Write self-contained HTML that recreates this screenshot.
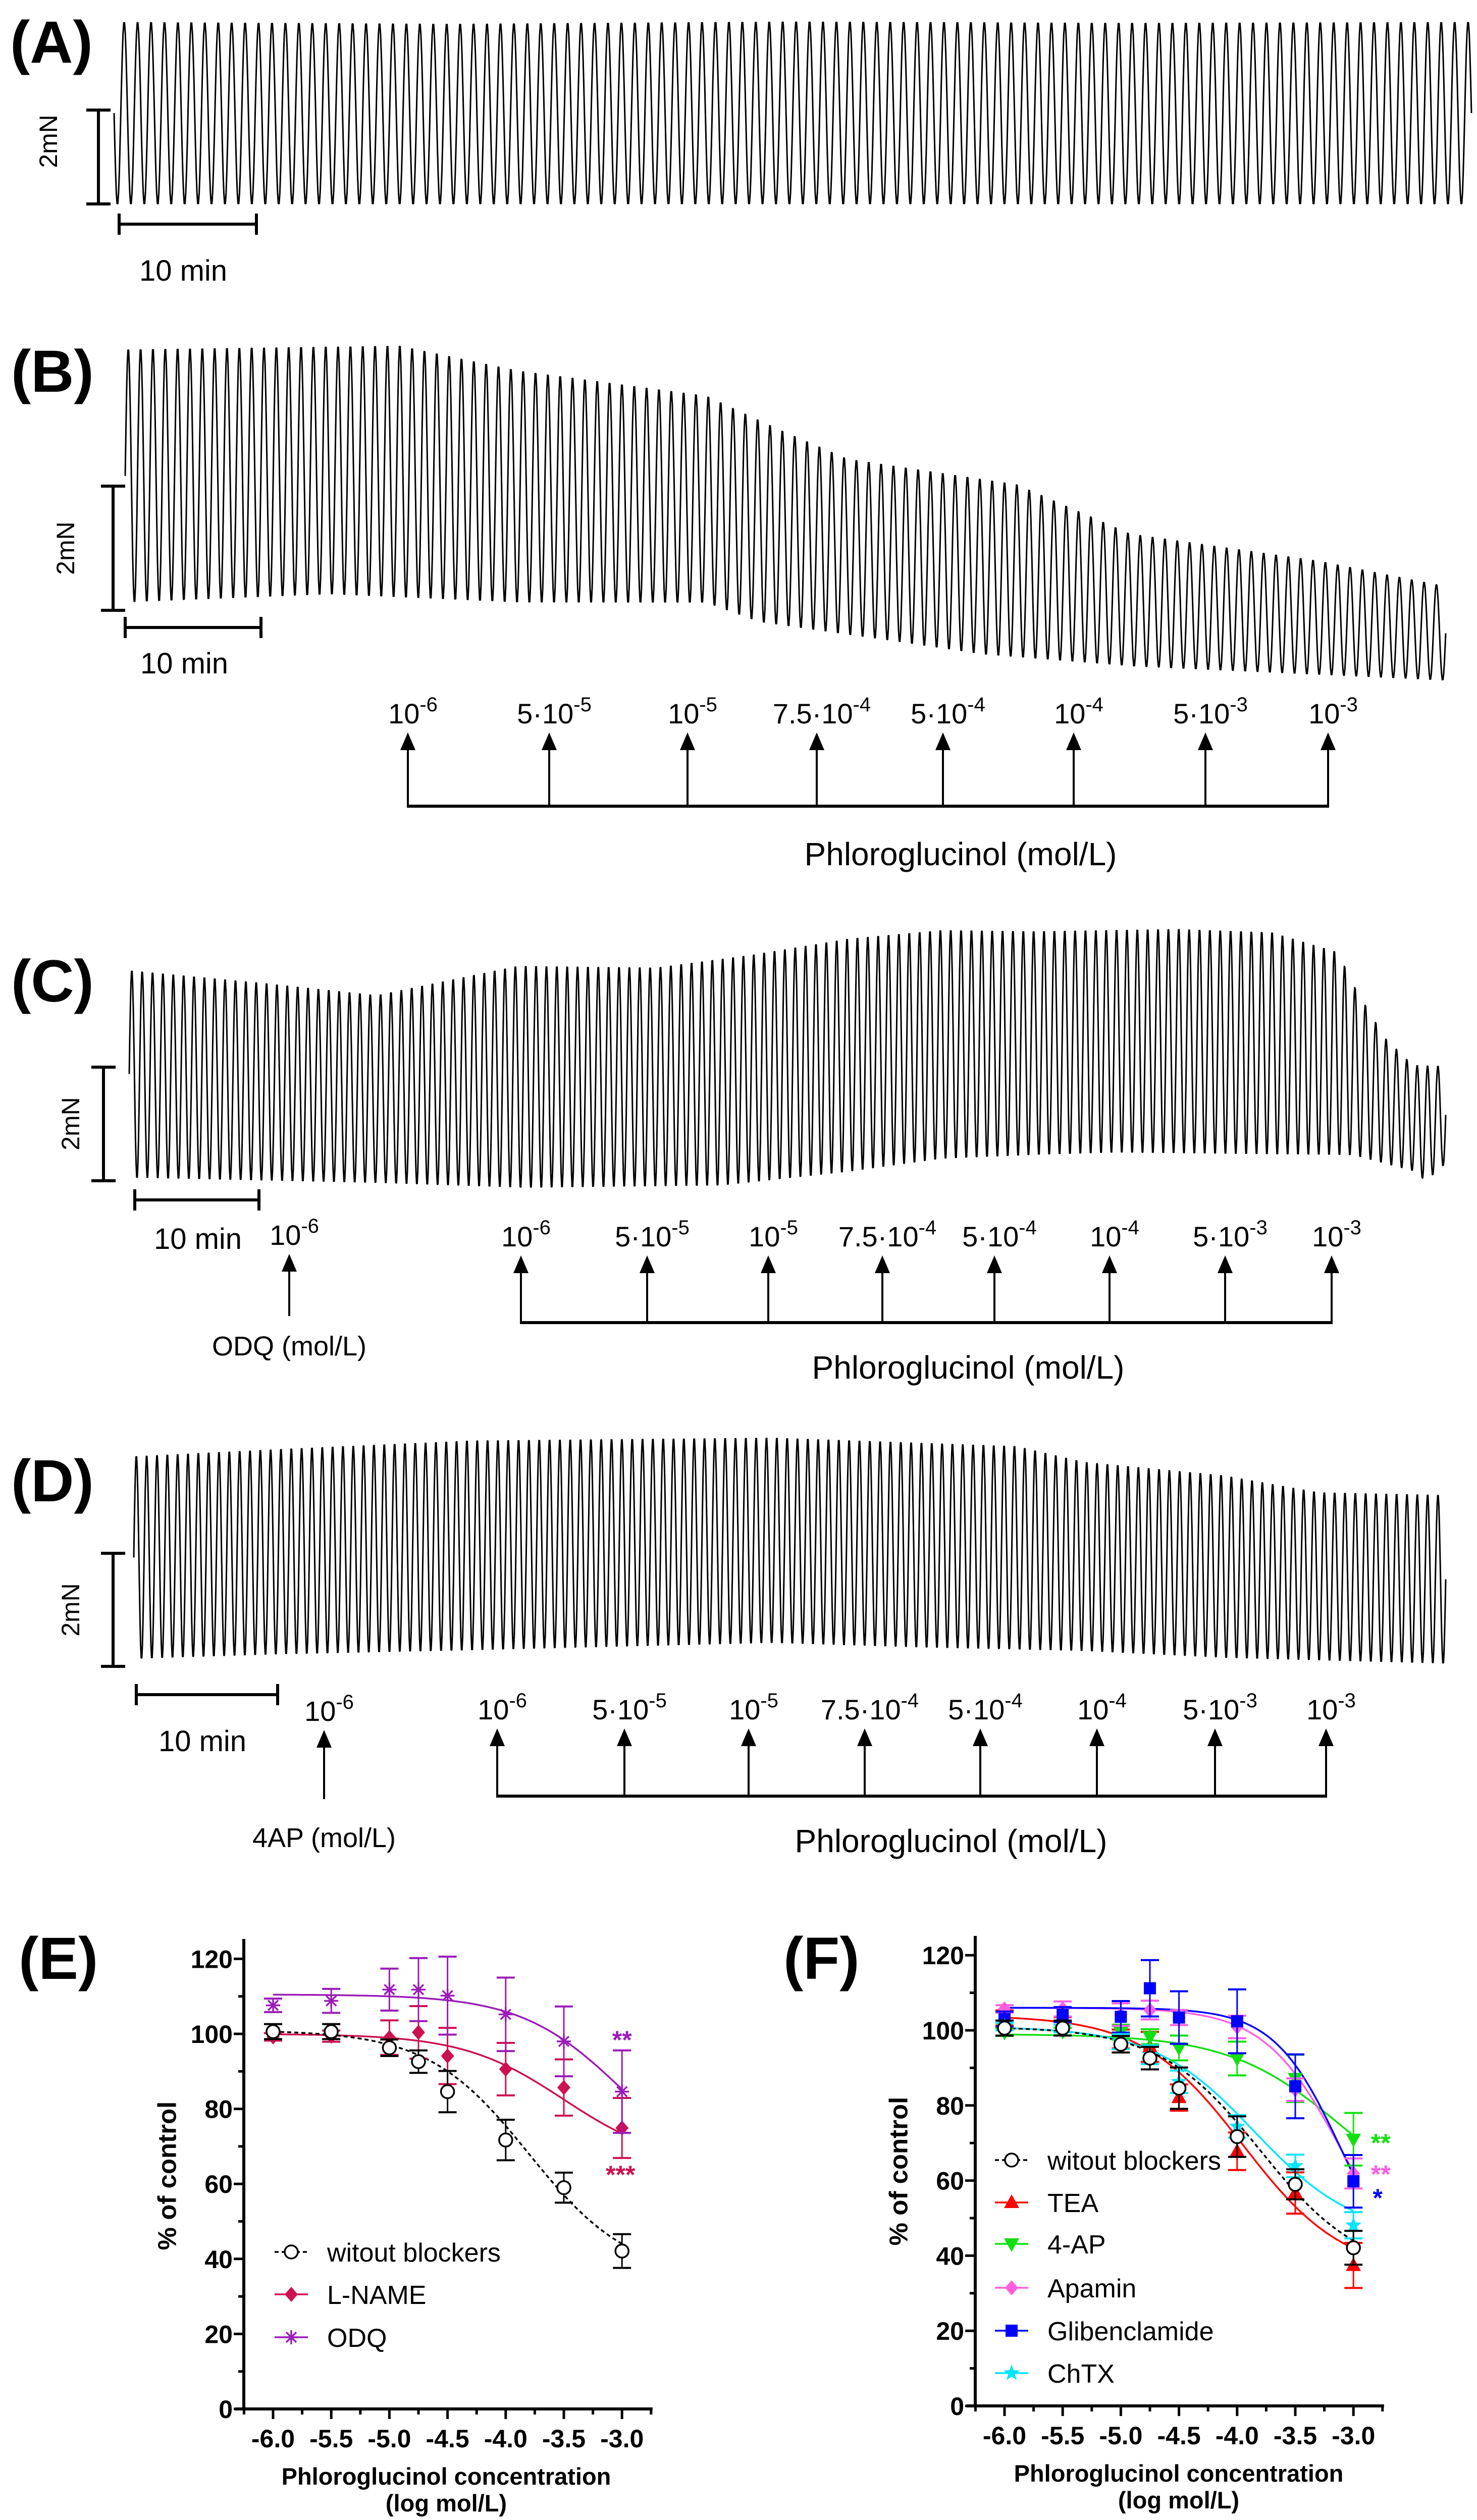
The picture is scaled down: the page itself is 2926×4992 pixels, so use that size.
<!DOCTYPE html>
<html><head><meta charset="utf-8"><title>Phloroglucinol contractility figure</title>
<style>
html,body{margin:0;padding:0;background:#fff;}
svg{display:block;font-family:"Liberation Sans",Arial,sans-serif;}
.lbl{font-weight:bold;font-size:118px;}
.tick{font-weight:bold;font-size:50px;}
</style></head>
<body>
<svg id="fig" xmlns="http://www.w3.org/2000/svg" width="2926" height="4992" viewBox="0 0 2926 4992">
<rect x="0" y="0" width="2926" height="4992" fill="#fff"/>
<text class="lbl" x="20" y="124">(A)</text>
<text class="lbl" x="22" y="776">(B)</text>
<text class="lbl" x="22" y="1984">(C)</text>
<text class="lbl" x="22" y="2974">(D)</text>
<text class="lbl" x="37" y="3920">(E)</text>
<text class="lbl" x="1552" y="3920">(F)</text>
<g id="traces"></g>
<g id="chartE"></g>
<g id="chartF"></g>
</svg>
<script>
// ===== Trace data (fraction of recording, force in mN above scale-bar base) =====
const traceATop=[[0,3.89],[0.25,3.85],[0.5,3.9],[0.75,3.87],[1,3.89]];
const traceABot=[[0,-0.02],[1,-0.02]];
const traceBTop=[[0,4.22],[0.208,4.28],[0.297,3.88],[0.44,3.47],[0.497,2.91],[0.547,2.45],[0.675,2.04],[0.761,1.24],[0.904,0.80],[1,0.39]];
const traceBBot=[[0,0.11],[0.155,0.24],[0.3,0.11],[0.44,0.11],[0.48,-0.20],[0.58,-0.50],[0.65,-0.72],[0.765,-0.91],[1,-1.13]];
const traceCTop=[[0,3.72],[0.1,3.50],[0.188,3.28],[0.295,3.80],[0.40,3.77],[0.474,4.00],[0.546,4.28],[0.617,4.43],[0.689,4.41],[0.796,4.45],[0.868,4.39],[0.918,4.04],[0.932,3.37],[0.954,2.52],[0.975,2.04],[1,2.02]];
const traceCBot=[[0,0.04],[0.188,-0.05],[0.3,-0.14],[0.45,-0.10],[0.546,0.14],[0.617,0.37],[0.689,0.44],[0.75,0.48],[0.868,0.45],[0.93,0.44],[0.975,0.17],[0.985,-0.01],[1,0.30]];
const traceDTop=[[0,3.73],[0.113,3.86],[0.257,4.01],[0.487,4.06],[0.673,3.91],[0.724,3.63],[0.831,3.39],[0.903,3.09],[1,3.04]];
const traceDBot=[[0,0.12],[0.113,0.20],[0.257,0.27],[0.487,0.40],[0.6,0.32],[0.724,0.26],[0.831,0.14],[1,0.04]];
const cycleCounts=[101,107,127,127];
const doseLabels=[["10","-6"],["5·10","-5"],["10","-5"],["7.5·10","-4"],["5·10","-4"],["10","-4"],["5·10","-3"],["10","-3"]];

// ===== Dose-response data =====
const xTickLabels=["-6.0","-5.5","-5.0","-4.5","-4.0","-3.5","-3.0"];
const xTickValues=[-6,-5.5,-5,-4.5,-4,-3.5,-3];
const yTickValues=[0,20,40,60,80,100,120];
const logConc=[-6,-5.5,-5,-4.75,-4.5,-4,-3.5,-3];
const ctrlMean=[100.6,100.6,96.3,92.6,84.6,71.7,59.0,42.1];
const ctrlSem=[2,2,2.2,3,5.5,5.4,4,4.5];
const lnameMean=[99.2,99.4,99.0,100.4,94.1,90.6,85.7,74.9];
const lnameSem=[1,1.5,4.6,7,7.5,7,7.5,8];
const odqMean=[107.6,108.8,111.8,111.8,110.2,105.2,98,84.6];
const odqSem=[1.8,3.2,5.6,8.4,10.4,9.8,9.3,11];
const teaMean=[103.3,101.5,97.7,95.6,82.1,67.8,56.7,37.4];
const teaSem=[2,2,2.5,4,3.5,5,5.5,6];
const apMean=[99.5,99.7,99.5,98.3,95.3,92.5,87.2,71];
const apSem=[1,1,2,2,3.3,4.5,6.3,7];
const apaminMean=[105.7,105.7,104.2,105.4,103.4,100.9,84.2,61.9];
const apaminSem=[1,2,3,2.5,2,3,3,4];
const glibMean=[103,104.2,103.6,111.2,103.4,102.4,85.1,59.8];
const glibSem=[2,2,4.2,7.5,7,8.5,8.5,7];
const chtxMean=[101,100.5,97,93.5,86.3,74.4,63.9,48.1];
const chtxSem=[1,1,2,2.5,3,3,3,3.5];
// Hill fit parameters: [top, bottom, logIC50, hill]
const ctrlFit=[101,35,-3.8,1];
const lnameFit=[100,65,-3.5,1];
const odqFit=[110.5,60,-3.0,1];
const teaFit=[104,35,-3.95,1];
const apFit=[99,50,-3.1,0.9];
const apaminFit=[106,30,-3.1,1.3];
const glibFit=[106,30,-3.1,1.5];
const chtxFit=[101,45,-3.85,1];

const NS="http://www.w3.org/2000/svg";
function mk(tag,attrs,parent){const e=document.createElementNS(NS,tag);for(const k in attrs)e.setAttribute(k,attrs[k]);parent.appendChild(e);return e;}
function interp(arr,t){for(let i=1;i<arr.length;i++){if(t<=arr[i][0]){const a=arr[i-1],b=arr[i];const f=(t-a[0])/(b[0]-a[0]||1);return a[1]+f*(b[1]-a[1]);}}return arr[arr.length-1][1];}

const traces=document.getElementById('traces');
function drawTrace(cfg,topArr,botArr,cycles,name){
  const N=cycles*18;let d='';
  for(let i=0;i<=N;i++){const t=i/N;const tp=interp(topArr,t),bt=interp(botArr,t);
    const v=(tp+bt)/2+cfg.dir*(tp-bt)/2*Math.sin(2*Math.PI*cycles*t);
    const x=cfg.x0+t*(cfg.x1-cfg.x0),y=cfg.base-v*cfg.ppm;
    d+=(i?'L':'M')+x.toFixed(1)+' '+y.toFixed(1);}
  const p=mk('path',{d:d,fill:'none',stroke:'#000','stroke-width':3,'stroke-linejoin':'round'},traces);
  
  
}
function scaleBars(vx,vy0,vy1,hx0,hx1,hy,labx,laby,mnx,mny,name){
  const g=mk('g',{},traces);
  
  
  const s={stroke:'#000','stroke-width':6};
  mk('line',Object.assign({x1:vx,y1:vy0,x2:vx,y2:vy1},s),g);
  mk('line',Object.assign({x1:vx-24,y1:vy0,x2:vx+24,y2:vy0},s),g);
  mk('line',Object.assign({x1:vx-24,y1:vy1,x2:vx+24,y2:vy1},s),g);
  mk('line',Object.assign({x1:hx0,y1:hy,x2:hx1,y2:hy},s),g);
  mk('line',Object.assign({x1:hx0,y1:hy-21,x2:hx0,y2:hy+21},s),g);
  mk('line',Object.assign({x1:hx1,y1:hy-21,x2:hx1,y2:hy+21},s),g);
  const t=mk('text',{x:labx,y:laby,'text-anchor':'middle','font-size':58},g);t.textContent='10 min';
  const m=mk('text',{x:mnx,y:mny,'text-anchor':'middle','font-size':50,transform:`rotate(-90 ${mnx} ${mny})`,'dominant-baseline':'central'},g);m.textContent='2mN';
}
function doseLabel(x,y,lab,parent){
  const t=mk('text',{x:x,y:y,'text-anchor':'middle','font-size':56},parent);
  const a=mk('tspan',{},t);a.textContent=lab[0];
  const b=mk('tspan',{dy:-24,'font-size':40},t);b.textContent=lab[1];
  return t;
}
function arrow(x,tip,base,parent){
  mk('line',{x1:x,y1:tip+30,x2:x,y2:base,stroke:'#000','stroke-width':4},parent);
  mk('polygon',{points:`${x},${tip} ${x-15},${tip+35} ${x+15},${tip+35}`,fill:'#000'},parent);
}
function doseSeries(xs,tip,base,name,titleX,titleY){
  const g=mk('g',{},traces);
  
  
  mk('line',{x1:xs[0]-2,y1:base,x2:xs[xs.length-1]+2,y2:base,stroke:'#000','stroke-width':6},g);
  xs.forEach((x,i)=>{arrow(x,tip,base,g);
    const l=doseLabel(x+10,tip-18,doseLabels[i],g);
    
    });
  const t=mk('text',{x:titleX,y:titleY,'text-anchor':'middle','font-size':64},g);t.textContent='Phloroglucinol (mol/L)';
}
function singleArrow(x,tip,base,title,ty,name){
  const g=mk('g',{},traces);
  
  
  arrow(x,tip,base,g);
  doseLabel(x+10,tip-18,["10","-6"],g);
  const t=mk('text',{x:x,y:ty,'text-anchor':'middle','font-size':54},g);t.textContent=title;
}

// Panel A
drawTrace({x0:226,x1:2915,base:404,ppm:93,dir:-1},traceATop,traceABot,cycleCounts[0],'trace-a');
scaleBars(195,218,404,236,508,444,363,556,96,280,'scale-bars-a');
// Panel B
drawTrace({x0:248,x1:2864,base:1209,ppm:123,dir:1},traceBTop,traceBBot,cycleCounts[1],'trace-b');
scaleBars(224,963,1209,248,517,1243,365,1334,130,1086,'scale-bars-b');
doseSeries([808,1088,1362,1618,1868,2127,2388,2631],1451,1597,'phloroglucinol-doses-b',1903,1714);
// Panel C
drawTrace({x0:256,x1:2864,base:2339,ppm:112.5,dir:1},traceCTop,traceCBot,cycleCounts[2],'trace-c');
scaleBars(205,2114,2339,267,513,2377,392,2474,140,2226,'scale-bars-c');
singleArrow(573,2484,2607,'ODQ (mol/L)',2685,'odq-addition');
doseSeries([1032,1282,1522,1748,1970,2198,2427,2638],2487,2620,'phloroglucinol-doses-c',1918,2731);
// Panel D
drawTrace({x0:265,x1:2864,base:3301,ppm:112,dir:1},traceDTop,traceDBot,cycleCounts[3],'trace-d');
scaleBars(224,3077,3301,270,550,3357,401,3469,140,3189,'scale-bars-d');
singleArrow(642,3427,3564,'4AP (mol/L)',3659,'4ap-addition');
doseSeries([985,1237,1483,1713,1942,2173,2407,2627],3424,3558,'phloroglucinol-doses-d',1884,3669);

// ===== Dose-response charts =====
function hill(p,x){return p[1]+(p[0]-p[1])/(1+Math.pow(10,(x-p[2])*p[3]));}
function marker(type,x,y,color,parent){
  let e;
  if(type==='circle'){e=mk('circle',{cx:x,cy:y,r:13,fill:'#fff',stroke:'#000','stroke-width':3.5},parent);}
  else if(type==='diamond'){e=mk('polygon',{points:`${x},${y-15} ${x+13},${y} ${x},${y+15} ${x-13},${y}`,fill:color},parent);}
  else if(type==='tri-up'){e=mk('polygon',{points:`${x},${y-16} ${x+15},${y+11} ${x-15},${y+11}`,fill:color},parent);}
  else if(type==='tri-down'){e=mk('polygon',{points:`${x},${y+16} ${x+15},${y-11} ${x-15},${y-11}`,fill:color},parent);}
  else if(type==='square'){e=mk('rect',{x:x-12,y:y-12,width:24,height:24,fill:color},parent);}
  else if(type==='star'){let pts=[];for(let i=0;i<10;i++){const r=i%2?7:17,a=-Math.PI/2+i*Math.PI/5;pts.push((x+r*Math.cos(a)).toFixed(1)+','+(y+r*Math.sin(a)).toFixed(1));}e=mk('polygon',{points:pts.join(' '),fill:color},parent);}
  else {e=mk('g',{stroke:color,'stroke-width':3.5},parent);
    mk('line',{x1:x,y1:y-14,x2:x,y2:y+14},e);mk('line',{x1:x-14,y1:y,x2:x+14,y2:y},e);
    mk('line',{x1:x-10,y1:y-10,x2:x+10,y2:y+10},e);mk('line',{x1:x-10,y1:y+10,x2:x+10,y2:y-10},e);}
  return e;
}
function chart(gid,cfg,series,legendYs,stars){
  const g=document.getElementById(gid);
  const xs=v=>cfg.x6+(v+6)*230.4, ys=v=>cfg.y0-v*cfg.py;
  const ax=mk('g',{},g);
  
  
  mk('line',{x1:cfg.ax,y1:cfg.top,x2:cfg.ax,y2:cfg.y0+3,stroke:'#000','stroke-width':6},ax);
  mk('line',{x1:cfg.ax-17,y1:cfg.y0,x2:xs(-2.75)+3,y2:cfg.y0,stroke:'#000','stroke-width':6},ax);
  for(let v=0;v<=120;v+=10){const big=v%20===0;mk('line',{x1:cfg.ax-(big?20:11),y1:ys(v),x2:cfg.ax,y2:ys(v),stroke:'#000','stroke-width':5},ax);}
  yTickValues.forEach(v=>{const t=mk('text',{x:cfg.ax-22,y:ys(v)+18,'text-anchor':'end',class:'tick'},ax);t.textContent=String(v);
    
    });
  for(let v=-6.25;v<=-2.74;v+=0.25){const big=Math.abs(v*2-Math.round(v*2))<0.01;mk('line',{x1:xs(v),y1:cfg.y0,x2:xs(v),y2:cfg.y0+(big?20:11),stroke:'#000','stroke-width':5},ax);}
  xTickValues.forEach((v,i)=>{const t=mk('text',{x:xs(v),y:cfg.y0+76,'text-anchor':'middle',class:'tick'},ax);t.textContent=xTickLabels[i];
    
    });
  const t1=mk('text',{x:cfg.tx,y:cfg.y0+150,'text-anchor':'middle','font-weight':'bold','font-size':47},ax);t1.textContent='Phloroglucinol concentration';
  
  
  const t2=mk('text',{x:cfg.tx,y:cfg.y0+203,'text-anchor':'middle','font-weight':'bold','font-size':47},ax);t2.textContent='(log mol/L)';
  const yt=mk('text',{x:cfg.ytx,y:cfg.yty,'text-anchor':'middle','font-weight':'bold','font-size':51,'dominant-baseline':'central',transform:`rotate(-90 ${cfg.ytx} ${cfg.yty})`},ax);yt.textContent='% of control';
  
  
  series.forEach(s=>{let d='';for(let i=0;i<=120;i++){const x=-6+3*i/120;d+=(i?'L':'M')+xs(x).toFixed(1)+' '+ys(hill(s.fit,x)).toFixed(1);}
    const p=mk('path',{d:d,fill:'none',stroke:s.color,'stroke-width':3.5,'stroke-dasharray':s.dash||'none'},g);
    
    });
  series.forEach(s=>{const sg=mk('g',{},g);
    
    
    logConc.forEach((x,i)=>{const cx=xs(x),m=s.mean[i],e=s.sem[i];
      mk('line',{x1:cx,y1:ys(m+e),x2:cx,y2:ys(m-e),stroke:s.color,'stroke-width':3},sg);
      mk('line',{x1:cx-18,y1:ys(m+e),x2:cx+18,y2:ys(m+e),stroke:s.color,'stroke-width':4},sg);
      mk('line',{x1:cx-18,y1:ys(m-e),x2:cx+18,y2:ys(m-e),stroke:s.color,'stroke-width':4},sg);
      const mm=marker(s.marker,cx,ys(m),s.color,sg);
      
      });});
  const lg=mk('g',{},g);
  
  
  cfg.legendOrder.forEach((si,i)=>{const s=series[si],y=legendYs[i];
    const e=mk('g',{},lg);
    
    
    mk('line',{x1:cfg.lx,y1:y,x2:cfg.lx+66,y2:y,stroke:s.color,'stroke-width':3.5,'stroke-dasharray':s.dash||'none'},e);
    marker(s.marker,cfg.lx+33,y,s.color,e);
    const t=mk('text',{x:cfg.lx+104,y:y+19,'font-size':52},e);t.textContent=s.label;});
  stars.forEach(st=>{const t=mk('text',{x:xs(st.x)+st.dx,y:st.y,'text-anchor':'middle','font-weight':'bold','font-size':50,fill:st.color},g);t.textContent=st.text;
    
    });
}
const ctrlSeries={key:'without-blockers',label:'witout blockers',mean:ctrlMean,sem:ctrlSem,fit:ctrlFit,color:'#000',marker:'circle',dash:'8 6'};
chart('chartE',{x6:541,ax:483,top:3841,y0:4772,py:7.43,tx:884,ytx:331,yty:4310,lx:544,legendOrder:[2,0,1]},
 [{key:'l-name',label:'L-NAME',mean:lnameMean,sem:lnameSem,fit:lnameFit,color:'#cc1150',marker:'diamond'},
  {key:'odq',label:'ODQ',mean:odqMean,sem:odqSem,fit:odqFit,color:'#9a1cb8',marker:'asterisk'},
  ctrlSeries],[4461,4545,4630],
 [{x:-3,dx:0,y:4058,text:'**',color:'#9a1cb8'},{x:-3,dx:-3,y:4325,text:'***',color:'#cc1150'}]);
chart('chartF',{x6:1990,ax:1932,top:3835,y0:4766,py:7.44,tx:2335,ytx:1780,yty:4301,lx:1971,legendOrder:[5,0,1,2,3,4]},
 [{key:'tea',label:'TEA',mean:teaMean,sem:teaSem,fit:teaFit,color:'#ff0000',marker:'tri-up'},
  {key:'4-ap',label:'4-AP',mean:apMean,sem:apSem,fit:apFit,color:'#10e010',marker:'tri-down'},
  {key:'apamin',label:'Apamin',mean:apaminMean,sem:apaminSem,fit:apaminFit,color:'#ff5ee0',marker:'diamond'},
  {key:'glibenclamide',label:'Glibenclamide',mean:glibMean,sem:glibSem,fit:glibFit,color:'#0000ff',marker:'square'},
  {key:'chtx',label:'ChTX',mean:chtxMean,sem:chtxSem,fit:chtxFit,color:'#00e5ff',marker:'star'},
  ctrlSeries],[4279,4363,4445,4532,4617,4701],
 [{x:-3,dx:54,y:4262,text:'**',color:'#10e010'},{x:-3,dx:54,y:4324,text:'**',color:'#ff5ee0'},{x:-3,dx:48,y:4371,text:'*',color:'#0000ff'}]);
</script>
</body></html>
